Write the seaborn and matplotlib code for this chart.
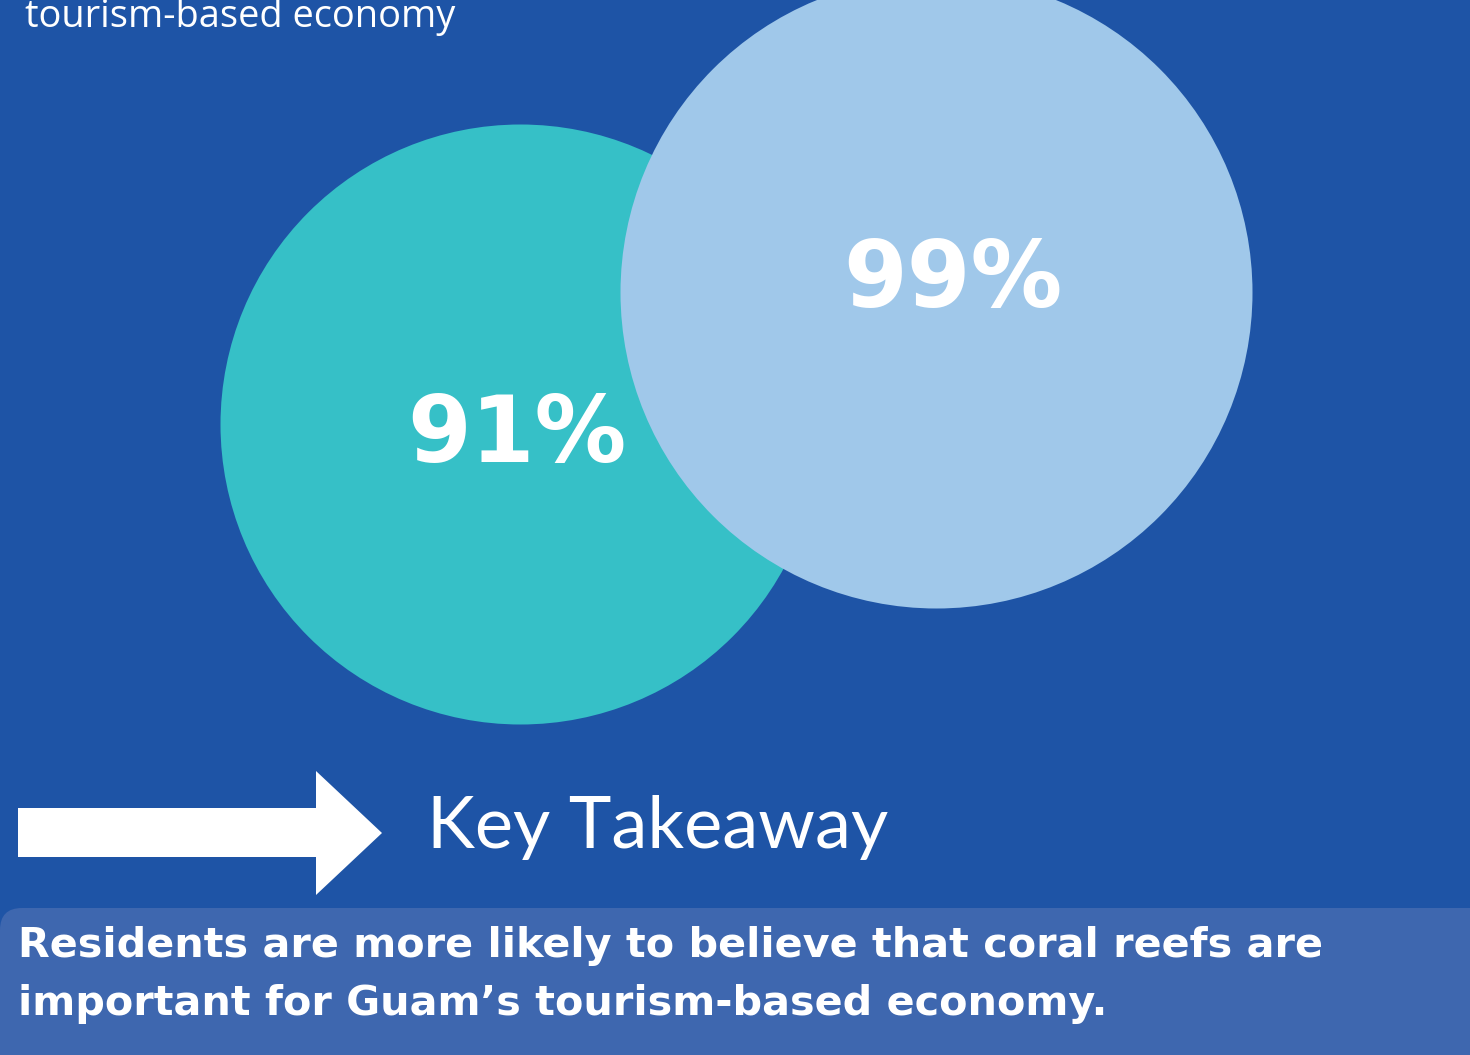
import matplotlib
matplotlib.use("Agg")
import matplotlib.pyplot as plt
import seaborn as sns
import pandas as pd
from matplotlib.patches import FancyBboxPatch, Polygon

# Data
groups = ["Visitors", "Residents"]
shares = [91, 99]
labels = ["91%", "99%"]
colors = ["#36C0C7", "#A0C8EA"]

top_text = "tourism-based economy"
takeaway_title = "Key Takeaway"
takeaway_lines = ["Residents are more likely to believe that coral reefs are",
                  "important for Guam\u2019s tourism-based economy."]

BG = "#1E54A6"
BOX = "#3E67AF"

sns.set_theme(style="white")
plt.rcParams['font.family'] = ['Lato', 'DejaVu Sans']

W, H = 1470, 1055
fig = plt.figure(figsize=(W / 100, H / 100), dpi=100)
fig.patch.set_facecolor(BG)
ax = fig.add_axes([0, 0, 1, 1])
ax.set_facecolor(BG)
ax.set_xlim(0, W)
ax.set_ylim(H, 0)
ax.axis("off")

# circles (pixel layout)
cx = [520, 936]
cy = [424, 292]
rad = [300, 316]
df = pd.DataFrame({"group": groups, "share": shares, "x": cx, "y": cy})
for i in range(2):
    d = 2 * rad[i] * 72 / 100
    sns.scatterplot(data=df.iloc[[i]], x="x", y="y", s=d ** 2, color=colors[i],
                    linewidth=0, ax=ax, legend=False, zorder=2 + i)

pct_font = ["DejaVu Sans"]
ax.text(517, 462, labels[0], color="white", fontsize=66, fontweight="bold",
        ha="center", va="baseline", zorder=5, family=pct_font)
ax.text(953, 307, labels[1], color="white", fontsize=66, fontweight="bold",
        ha="center", va="baseline", zorder=5, family=pct_font)

# top cut text
ax.text(25, 27, top_text, color="white", fontsize=27.4, ha="left", va="baseline",
        family=["Open Sans", "DejaVu Sans"])

# arrow
arrow = Polygon([(18, 808), (316, 808), (316, 771), (382, 833), (316, 895),
                 (316, 857), (18, 857)], closed=True, facecolor="white",
                edgecolor="none", zorder=4)
ax.add_patch(arrow)

ax.text(427, 848, takeaway_title, color="white", fontsize=52, ha="left",
        va="baseline", family=["Lato", "DejaVu Sans"])

# bottom box
box = FancyBboxPatch((0, 908), W + 40, 200, boxstyle="round,pad=0,rounding_size=22",
                     facecolor=BOX, edgecolor="none", zorder=3)
ax.add_patch(box)
bt_font = ["DejaVu Sans"]
ax.text(18, 957, takeaway_lines[0], color="white", fontsize=29.8, fontweight="bold",
        ha="left", va="baseline", zorder=5, family=bt_font)
ax.text(18, 1015, takeaway_lines[1], color="white", fontsize=29.8, fontweight="bold",
        ha="left", va="baseline", zorder=5, family=bt_font)

fig.savefig("out.png", dpi=100, facecolor=BG)
